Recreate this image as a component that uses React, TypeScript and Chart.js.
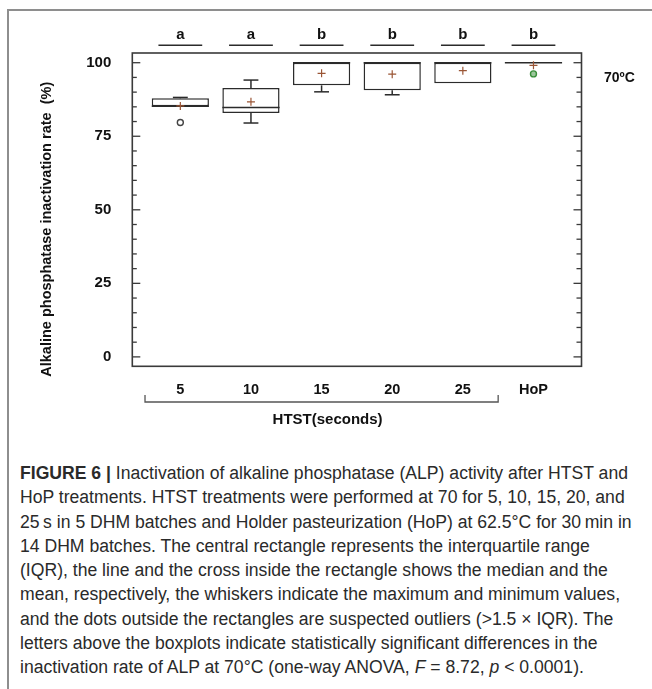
import React, { useEffect, useRef } from 'react';
import { Chart, registerables } from 'chart.js';

Chart.register(...registerables);

// ---- data ----
const categories = ['5', '10', '15', '20', '25', 'HoP'];
const whiskerMin = [85.2, 79.5, 90.1, 89.1, 93.0, 100];
const q1 = [85.2, 82.9, 92.3, 90.6, 93.0, 100];
const medians = [85.2, 84.8, 100, 100, 100, 100];
const q3 = [87.9, 91.4, 100, 100, 100, 100];
const whiskerMax = [88.2, 94.1, 100, 100, 100, 100];
const means = [85.3, 86.7, 96.4, 96.1, 97.3, 99.1];
const outlierGroup = [1, 6];
const outlierValues = [79.7, 96.2];
const sigLetters = ['a', 'a', 'b', 'b', 'b', 'b'];
const yMajorTicks = [0, 25, 50, 75, 100];
const yMinorTicks = [5, 10, 15, 20, 30, 35, 40, 45, 55, 60, 65, 70, 80, 85, 90, 95];
const htstGroups = [1, 5];

const FONT = '"Liberation Sans", Arial, Helvetica, sans-serif';
const INK = '#2b2b2b';

const captionLines: React.ReactNode[] = [
  <><b>FIGURE 6 |</b> Inactivation of alkaline phosphatase (ALP) activity after HTST and</>,
  <>HoP treatments. HTST treatments were performed at 70 for 5, 10, 15, 20, and</>,
  <>25{'\u2009'}s in 5 DHM batches and Holder pasteurization (HoP) at 62.5°C for 30{'\u2009'}min in</>,
  <>14 DHM batches. The central rectangle represents the interquartile range</>,
  <>(IQR), the line and the cross inside the rectangle shows the median and the</>,
  <>mean, respectively, the whiskers indicate the maximum and minimum values,</>,
  <>and the dots outside the rectangles are suspected outliers ({'>'}1.5 × IQR). The</>,
  <>letters above the boxplots indicate statistically significant differences in the</>,
  <>inactivation rate of ALP at 70°C (one-way ANOVA, <i>F</i> = 8.72, <i>p</i> {'<'} 0.0001).</>,
];

const boxPlugin = {
  id: 'boxExtras',
  afterDatasetDraw(chart: any, args: any) {
    if (args.index !== 0) return;
    const { ctx } = chart;
    const y = chart.scales.y;
    const meta = chart.getDatasetMeta(0);
    ctx.save();
    ctx.strokeStyle = INK;
    ctx.lineWidth = 1.5;
    const line = (x1: number, y1: number, x2: number, y2: number) => {
      ctx.beginPath();
      ctx.moveTo(x1, y1);
      ctx.lineTo(x2, y2);
      ctx.stroke();
    };
    meta.data.forEach((el: any, i: number) => {
      const { x, width } = el.getProps(['x', 'width'], true);
      const half = width / 2;
      const cap = width * 0.13;
      if (whiskerMax[i] > q3[i]) {
        const yMax = y.getPixelForValue(whiskerMax[i]);
        line(x, y.getPixelForValue(q3[i]), x, yMax);
        line(x - cap, yMax, x + cap, yMax);
      }
      if (whiskerMin[i] < q1[i]) {
        const yMin = y.getPixelForValue(whiskerMin[i]);
        line(x, y.getPixelForValue(q1[i]), x, yMin);
        line(x - cap, yMin, x + cap, yMin);
      }
      const ym = y.getPixelForValue(medians[i]);
      line(x - half, ym, x + half, ym);
    });
    ctx.restore();
  },
  afterDraw(chart: any) {
    const { ctx, chartArea } = chart;
    const { left, right, top, bottom } = chartArea;
    const x = chart.scales.x;
    const y = chart.scales.y;
    const line = (x1: number, y1: number, x2: number, y2: number) => {
      ctx.beginPath();
      ctx.moveTo(x1, y1);
      ctx.lineTo(x2, y2);
      ctx.stroke();
    };
    ctx.save();
    // plot frame
    ctx.strokeStyle = '#3a3a3a';
    ctx.lineWidth = 1.6;
    ctx.strokeRect(left, top, right - left, bottom - top);
    // inward ticks, left and right
    ctx.lineWidth = 1.3;
    yMajorTicks.forEach((v) => {
      const py = y.getPixelForValue(v);
      line(left, py, left + 8, py);
      line(right - 8, py, right, py);
    });
    yMinorTicks.forEach((v) => {
      const py = y.getPixelForValue(v);
      line(left, py, left + 4.5, py);
      line(right - 5, py, right, py);
    });
    // significance letters
    ctx.fillStyle = '#111';
    ctx.font = `bold 15px ${FONT}`;
    ctx.textAlign = 'center';
    ctx.textBaseline = 'middle';
    ctx.strokeStyle = INK;
    ctx.lineWidth = 1.5;
    sigLetters.forEach((s, i) => {
      const cx = x.getPixelForValue(i + 1);
      ctx.fillText(s, cx, top - 18);
      line(x.getPixelForValue(i + 1 - 0.31), top - 7.7, x.getPixelForValue(i + 1 + 0.31), top - 7.7);
    });
    // temperature label
    ctx.font = `bold 14px ${FONT}`;
    ctx.textAlign = 'left';
    ctx.fillText('70ºC', right + 22.5, top + 25);
    // HTST bracket
    const bx1 = x.getPixelForValue(htstGroups[0] - 0.5);
    const bx2 = x.getPixelForValue(htstGroups[1] + 0.5);
    const by = bottom + 35.7;
    ctx.strokeStyle = '#555';
    ctx.lineWidth = 1.3;
    ctx.beginPath();
    ctx.moveTo(bx1, by - 7);
    ctx.lineTo(bx1, by);
    ctx.lineTo(bx2, by);
    ctx.lineTo(bx2, by - 7);
    ctx.stroke();
    ctx.font = `bold 15px ${FONT}`;
    ctx.textAlign = 'center';
    ctx.fillText('HTST(seconds)', (bx1 + bx2) / 2 + 6, bottom + 54);
    // y title
    ctx.font = `bold 14.5px ${FONT}`;
    ctx.translate(46.7, 376.7);
    ctx.rotate(-Math.PI / 2);
    ctx.textAlign = 'left';
    ctx.textBaseline = 'middle';
    ctx.fillText('Alkaline phosphatase inactivation rate  (%)', 0, 0);
    ctx.restore();
  },
};

export default function App() {
  const ref = useRef<HTMLCanvasElement | null>(null);
  useEffect(() => {
    if (!ref.current) return;
    Chart.defaults.font.family = FONT;
    const chart = new Chart(ref.current, {
      type: 'bar',
      data: {
        datasets: [
          {
            type: 'bar',
            data: categories.map((_, i) => ({ x: i + 1, y: [q1[i], q3[i]] })) as any,
            backgroundColor: '#ffffff',
            borderColor: INK,
            borderWidth: 1.5,
            borderSkipped: false,
            barPercentage: 0.81,
            categoryPercentage: 1,
            order: 2,
          } as any,
          {
            type: 'scatter',
            data: means.map((m, i) => ({ x: i + 1, y: m })),
            pointStyle: 'cross',
            radius: 4,
            borderColor: '#9a5535',
            borderWidth: 1.2,
            order: 0,
          } as any,
          {
            type: 'scatter',
            data: outlierValues.map((v, i) => ({ x: outlierGroup[i], y: v })),
            pointStyle: 'circle',
            radius: 3,
            borderColor: ['#444444', '#3a8f3a'],
            backgroundColor: ['rgba(255,255,255,1)', 'rgba(90,160,90,0.6)'],
            borderWidth: 1.4,
            order: 0,
          } as any,
        ],
      },
      options: {
        animation: false,
        responsive: false,
        events: [],
        layout: { padding: { left: 0, right: 70.5, top: 53, bottom: 43.7 } },
        plugins: { legend: { display: false }, tooltip: { enabled: false } },
        scales: {
          x: {
            type: 'linear',
            offset: false,
            min: 0.32,
            max: 6.68,
            grid: { display: false, offset: false },
            border: { display: false },
            afterBuildTicks: (s: any) => {
              s.ticks = categories.map((_, i) => ({ value: i + 1 }));
            },
            afterFit: (s: any) => {
              s.height = 30;
            },
            ticks: {
              padding: 7,
              color: '#111',
              font: { size: 14.5, weight: 'bold' },
              callback: (v: any) => categories[Math.round(Number(v)) - 1] ?? '',
            },
          },
          y: {
            type: 'linear',
            min: -3.2,
            max: 103.3,
            grid: { display: false },
            border: { display: false },
            afterBuildTicks: (s: any) => {
              s.ticks = yMajorTicks.map((v) => ({ value: v }));
            },
            afterFit: (s: any) => {
              s.width = 132.3;
            },
            ticks: {
              padding: 13,
              color: '#111',
              font: { size: 15, weight: 'bold' },
              callback: (v: any) => String(v),
            },
          },
        },
      } as any,
      plugins: [boxPlugin],
    });
    return () => chart.destroy();
  }, []);

  return (
    <div
      style={{
        position: 'absolute',
        left: 0,
        top: 0,
        width: 652,
        height: 689,
        overflow: 'hidden',
        background: '#fff',
      }}
    >
      <div
        style={{
          position: 'absolute',
          left: 7,
          top: 9,
          width: 700,
          height: 720,
          borderLeft: '2px solid #8e8e8e',
          borderTop: '2px solid #8e8e8e',
        }}
      />
      <canvas ref={ref} width={652} height={440} style={{ position: 'absolute', left: 0, top: 0, width: 652, height: 440 }} />
      <div
        style={{
          position: 'absolute',
          left: 20,
          top: 461,
          width: 640,
          fontFamily: FONT,
          fontSize: 17.6,
          lineHeight: '24.3px',
          color: '#2a2a2a',
        }}
      >
        {captionLines.map((l, i) => (
          <div key={i} style={{ whiteSpace: 'nowrap' }}>
            {l}
          </div>
        ))}
      </div>
    </div>
  );
}
